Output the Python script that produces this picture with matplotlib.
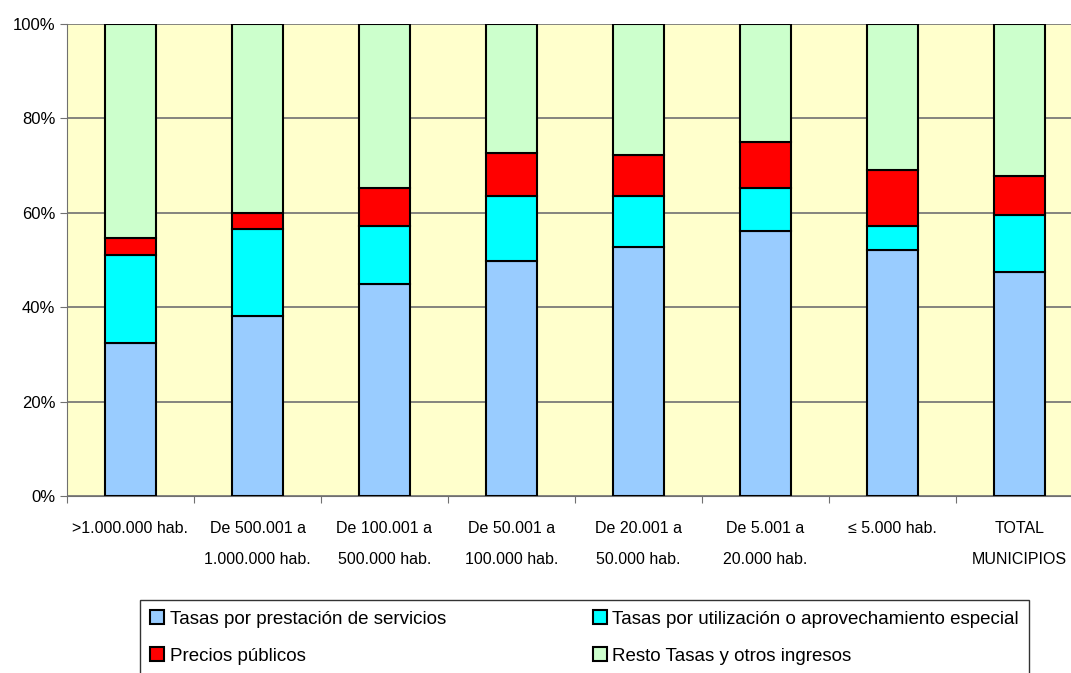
import numpy as np
import matplotlib.pyplot as plt
from matplotlib.ticker import FixedLocator, FuncFormatter

### Data (percentages) ###
categorias = [">1.000.000 hab.", "De 500.001 a\n1.000.000 hab.", "De 100.001 a\n500.000 hab.",
              "De 50.001 a\n100.000 hab.", "De 20.001 a\n50.000 hab.", "De 5.001 a\n20.000 hab.",
              "≤ 5.000 hab.", "TOTAL\nMUNICIPIOS"]
prestacion = [32.4, 38.1, 44.9, 49.8, 52.8, 56.1, 52.1, 47.5]
utilizacion = [18.7, 18.5, 12.3, 13.8, 10.8, 9.2, 5.1, 12.0]
precios = [3.6, 3.4, 8.1, 9.1, 8.6, 9.7, 11.9, 8.3]
resto = [45.3, 40.0, 34.7, 27.3, 27.8, 25.0, 30.9, 32.2]

series = [("Tasas por prestación de servicios", prestacion, "#99CCFF"),
          ("Tasas por utilización o aprovechamiento especial", utilizacion, "#00FFFF"),
          ("Precios públicos", precios, "#FF0000"),
          ("Resto Tasas y otros ingresos", resto, "#CCFFCC")]

plt.rcParams['font.family'] = ['Liberation Sans', 'DejaVu Sans']

fig = plt.figure(figsize=(10.71, 6.73), dpi=100)
ax = fig.add_axes([67 / 1071, 1 - 496 / 673, (1083 - 67) / 1071, (496 - 24) / 673])
ax.set_facecolor("#FFFFCC")

x = np.arange(len(categorias))
bottom = np.zeros(len(categorias))
handles = []
for nombre, vals, color in series:
    b = ax.bar(x, vals, 0.4, bottom=bottom, color=color, edgecolor="black", linewidth=1.5,
               label=nombre, zorder=3)
    handles.append(b)
    bottom += np.array(vals)

ax.set_xlim(-0.5, len(categorias) - 0.5)
ax.set_ylim(0, 100)
ax.yaxis.set_major_locator(FixedLocator([0, 20, 40, 60, 80, 100]))
ax.yaxis.set_major_formatter(FuncFormatter(lambda v, p: f"{int(v)}%"))
ax.grid(axis="y", color="#707070", linewidth=1.2, zorder=1)

ax.xaxis.set_major_locator(FixedLocator(np.arange(-0.5, len(categorias), 1.0)))
ax.xaxis.set_major_formatter(FuncFormatter(lambda v, p: ""))
ax.tick_params(axis="x", length=5, color="#707070")
ax.tick_params(axis="y", length=5, color="#707070", labelsize=12)
for i, lab in enumerate(categorias):
    ax.text(i, -5.3, lab, ha="center", va="top", fontsize=11.5, linespacing=2.3,
            transform=ax.transData)

for s in ["top", "right"]:
    ax.spines[s].set_visible(False)
ax.spines["left"].set_color("#707070")
ax.spines["bottom"].set_color("#707070")

# legend filled row by row, as in the original
orden = [handles[0], handles[2], handles[1], handles[3]]
leg = fig.legend(handles=orden, loc="upper left", bbox_to_anchor=(140 / 1071, 1 - 600 / 673),
                 ncol=2, frameon=True, fancybox=False, edgecolor="black", fontsize=13.5,
                 handlelength=0.75, handleheight=0.75, handletextpad=0.3, columnspacing=7.8,
                 labelspacing=1.05, borderpad=0.55, borderaxespad=0)
leg.get_frame().set_linewidth(1.0)

fig.savefig("out.png", dpi=100)
